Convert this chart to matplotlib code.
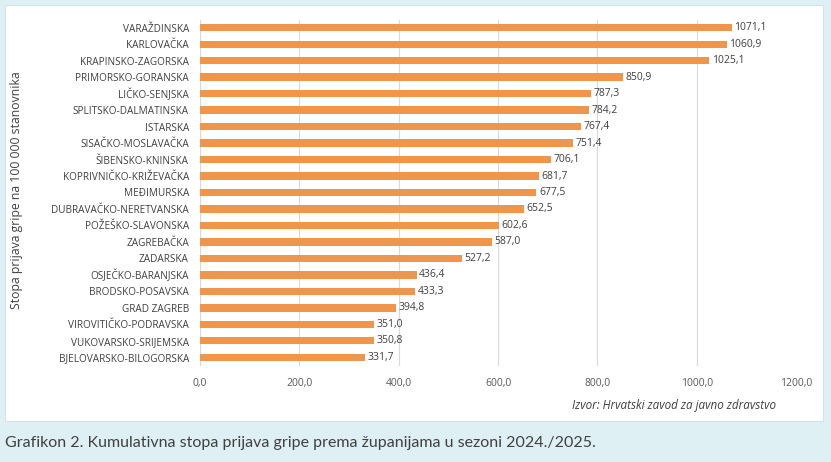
import matplotlib
matplotlib.use("Agg")
import matplotlib.pyplot as plt
from matplotlib.patches import Rectangle

counties = ["VARAŽDINSKA", "KARLOVAČKA", "KRAPINSKO-ZAGORSKA", "PRIMORSKO-GORANSKA",
            "LIČKO-SENJSKA", "SPLITSKO-DALMATINSKA", "ISTARSKA", "SISAČKO-MOSLAVAČKA",
            "ŠIBENSKO-KNINSKA", "KOPRIVNIČKO-KRIŽEVAČKA", "MEĐIMURSKA", "DUBRAVAČKO-NERETVANSKA",
            "POŽEŠKO-SLAVONSKA", "ZAGREBAČKA", "ZADARSKA", "OSJEČKO-BARANJSKA",
            "BRODSKO-POSAVSKA", "GRAD ZAGREB", "VIROVITIČKO-PODRAVSKA", "VUKOVARSKO-SRIJEMSKA",
            "BJELOVARSKO-BILOGORSKA"]
rates = [1071.1, 1060.9, 1025.1, 850.9, 787.3, 784.2, 767.4, 751.4, 706.1, 681.7, 677.5,
         652.5, 602.6, 587.0, 527.2, 436.4, 433.3, 394.8, 351.0, 350.8, 331.7]
xticks = [0, 200, 400, 600, 800, 1000, 1200]

def fmt(v):
    return f"{v:.1f}".replace(".", ",")

fig = plt.figure(figsize=(8.31, 4.62), dpi=100)
fig.patch.set_facecolor("#dff0f5")
panel = Rectangle((5/831, 1-421/462), 818/831, 416/462, transform=fig.transFigure,
                  facecolor="white", edgecolor="#cfe3ea", linewidth=0.8, zorder=-5)
fig.patches.append(panel)

ax = fig.add_axes([200/831, 1-365.5/462, 596/831, 346/462])
ax.set_zorder(2)
ax.set_facecolor("none")
y = list(range(len(counties)))
ax.barh(y, rates, height=0.45, color="#f0964c", zorder=3)
ax.set_ylim(len(counties)-0.5, -0.5)
ax.set_xlim(0, 1200)
ax.set_xticks(xticks)
ax.set_xticklabels([fmt(v) for v in xticks], fontsize=7.5, color="#595959", family="Open Sans")
ax.set_yticks(y)
ax.set_yticklabels(counties, fontsize=7.2, color="#404040", family="Open Sans")
ax.tick_params(length=0, pad=8)
ax.tick_params(axis="x", pad=9)
ax.grid(axis="x", color="#d9d9d9", linewidth=0.8, zorder=0)
for s in ax.spines.values():
    s.set_visible(False)
ax.axvline(0, color="#d9d9d9", linewidth=0.8, zorder=1)
for yi, v in zip(y, rates):
    ax.text(v + 5, yi, fmt(v), va="center", ha="left", fontsize=7.5, color="#404040",
            family="Open Sans")

fig.text(17/831, 1-190/462, "Stopa prijava gripe na 100 000 stanovnika", rotation=90,
         ha="center", va="center", fontsize=8.8, color="#404040", family="Open Sans")
fig.text(776/831, 1-406/462, "Izvor: Hrvatski zavod za javno zdravstvo", ha="right",
         va="center", fontsize=8.4, style="italic", color="#404040", family="Open Sans")
fig.text(5/831, 1-443/462, "Grafikon 2. Kumulativna stopa prijava gripe prema županijama u sezoni 2024./2025.",
         ha="left", va="center", fontsize=11.5, color="#404040", family="Lato")

fig.savefig("out.png", dpi=100, facecolor=fig.get_facecolor())
